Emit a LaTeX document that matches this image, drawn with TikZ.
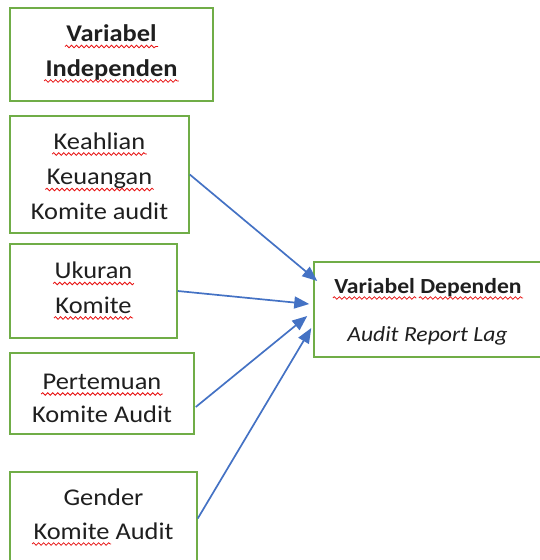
\documentclass[tikz,border=0pt]{standalone}
\usepackage{fontspec}
\setmainfont{Carlito}[FakeStretch=1.1]
\usetikzlibrary{arrows.meta,calc,decorations.pathmorphing}
\definecolor{boxgreen}{HTML}{70AD47}
\definecolor{arrowblue}{HTML}{4472C4}
\definecolor{spellred}{HTML}{E81010}
\newlength{\wVar}
\newlength{\wDep}
\newlength{\wKom}
\tikzset{
  box/.style={draw=boxgreen, line width=1.5pt, fill=white, inner sep=0pt},
  txt/.style={inner sep=0pt, outer sep=0pt, anchor=base, text=black!88,
    font=\fontsize{24}{28}\selectfont},
  deptxt/.style={txt, font=\fontsize{21.5}{26}\selectfont},
  wave/.style={draw=spellred, line width=0.8pt, decorate,
    decoration={snake, amplitude=1.3pt, segment length=5pt}},
  link/.style={draw=arrowblue, line width=1.7pt, -{Triangle[length=15pt,width=12pt]}}
}
\newcommand\wavebelow[2]{\draw[wave] ($(#1.base west)+(-1.5,5)$) -- ($(#2.base east)+(1.5,5)$);}
\begin{document}
\settowidth{\wVar}{\fontsize{21.5}{26}\selectfont\bfseries Variabel}%
\settowidth{\wDep}{\fontsize{21.5}{26}\selectfont\bfseries Dependen}%
\settowidth{\wKom}{\fontsize{24}{28}\selectfont Komite}%
\begin{tikzpicture}[x=1pt,y=-1pt]
\useasboundingbox (0,0) rectangle (540,560);
\clip (0,0) rectangle (540,560);
% boxes
\node[box, minimum width=203pt, minimum height=93pt] (indep) at (111.5,54.5) {};
\node[box, minimum width=179pt, minimum height=117pt] (keah) at (99.5,174.5) {};
\node[box, minimum width=167pt, minimum height=94pt] (ukur) at (93.5,291) {};
\node[box, minimum width=184pt, minimum height=81pt] (pert) at (102,393.5) {};
\node[box, minimum width=187pt, minimum height=93pt] (gend) at (103.5,518.5) {};
\node[box, minimum width=228pt, minimum height=95pt] (dep) at (428,309.5) {};
% texts
\node[txt, font=\fontsize{24}{28}\selectfont\bfseries] (i1) at (111.5,41.5) {Variabel};
\node[txt, font=\fontsize{24}{28}\selectfont\bfseries] (i2) at (111.5,76) {Independen};
\node[txt] (k1) at (99.5,149) {Keahlian};
\node[txt] (k2) at (99.5,184.5) {Keuangan};
\node[txt] (k3) at (99.5,219.5) {Komite audit};
\node[txt] (u1) at (93.5,278.5) {Ukuran};
\node[txt] (u2) at (93.5,313) {Komite};
\node[txt] (p1) at (102,389) {Pertemuan};
\node[txt] (p2) at (102,422) {Komite Audit};
\node[txt] (g1) at (103.5,505) {Gender};
\node[txt] (g2) at (103.5,539) {Komite Audit};
\node[deptxt, font=\fontsize{21.5}{26}\selectfont\bfseries] (d1) at (428,293) {Variabel Dependen};
\node[deptxt, font=\fontsize{21.5}{26}\selectfont\itshape] (d2) at (427.5,341) {Audit Report Lag};
% spell-check waves
\wavebelow{i1}{i1}
\wavebelow{i2}{i2}
\wavebelow{k1}{k1}
\wavebelow{k2}{k2}
\wavebelow{u1}{u1}
\wavebelow{u2}{u2}
\wavebelow{p1}{p1}
\draw[wave] ($(g2.base west)+(-1.5,5)$) -- ($(g2.base west)+(\wKom,5)+(1.5,0)$);
\draw[wave] ($(d1.base west)+(-1.5,5)$) -- ($(d1.base west)+(\wVar,5)+(1.5,0)$);
\draw[wave] ($(d1.base east)+(-\wDep,5)+(-1.5,0)$) -- ($(d1.base east)+(1.5,5)$);
% connectors
\coordinate (t1) at ($(dep.west)+(4,-28.5)$);
\coordinate (t2) at ($(dep.west)+(-4,-5.5)$);
\coordinate (t3) at ($(dep.west)+(-6,6.5)$);
\coordinate (t4) at ($(dep.west)+(-2,18.5)$);
\coordinate (s3) at ($(pert.east)+(1,13.5)$);
\draw[link] (keah.east) -- (t1);
\draw[link] (ukur.east) -- (t2);
\draw[link] (s3) -- (t3);
\draw[link] (gend.east) -- (t4);
\end{tikzpicture}
\end{document}
